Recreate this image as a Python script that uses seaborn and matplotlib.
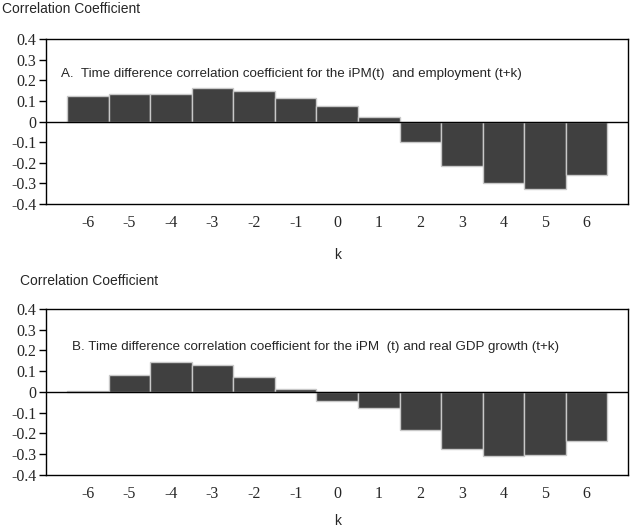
import numpy as np
import pandas as pd
import seaborn as sns
import matplotlib.pyplot as plt

lags = [-6, -5, -4, -3, -2, -1, 0, 1, 2, 3, 4, 5, 6]
corr_employment = [0.124, 0.133, 0.133, 0.161, 0.150, 0.117, 0.078, 0.024,
                   -0.101, -0.215, -0.298, -0.325, -0.259]
corr_gdp = [0.006, 0.084, 0.144, 0.132, 0.073, 0.013, -0.045, -0.079,
            -0.185, -0.273, -0.311, -0.302, -0.235]
ytick_vals = [0.4, 0.3, 0.2, 0.1, 0, -0.1, -0.2, -0.3, -0.4]
ytick_labels = ['0.4', '0.3', '0.2', '0.1', '0', '-0.1', '-0.2', '-0.3', '-0.4']
title_a = 'A.  Time difference correlation coefficient for the iPM(t)  and employment (t+k)'
title_b = 'B. Time difference correlation coefficient for the iPM  (t) and real GDP growth (t+k)'

sns.set_style("white")
sans = ['Liberation Sans Narrow', 'Liberation Sans', 'DejaVu Sans']
serif = ['Liberation Serif', 'DejaVu Serif']
plt.rcParams['font.family'] = sans

fig = plt.figure(figsize=(6.32, 5.30), dpi=100)
ax1 = fig.add_axes([0.073, 0.615, 0.921, 0.311])
ax2 = fig.add_axes([0.073, 0.104, 0.921, 0.313])

# (axes, values, panel text, text x, text y, k label pad) in axes fractions
panels = [(ax1, corr_employment, title_a, 0.026, 0.79, 12),
          (ax2, corr_gdp, title_b, 0.045, 0.77, 9)]
for ax, vals, label, tx, ty, pad in panels:
    df = pd.DataFrame({'k': [str(v) for v in lags], 'r': vals})
    sns.barplot(data=df, x='k', y='r', order=[str(v) for v in lags],
                color='#404040', saturation=1, width=1.0,
                edgecolor='#c8c8c8', linewidth=1, ax=ax)
    ax.set_xlim(-1, 13)
    ax.set_ylim(-0.4, 0.4)
    ax.axhline(0, color='black', linewidth=1)
    ax.set_yticks(ytick_vals)
    ax.set_yticklabels(ytick_labels, family=serif, fontsize=11.5)
    for t in ax.get_xticklabels():
        t.set_family(serif)
        t.set_fontsize(11.5)
    ax.tick_params(axis='y', direction='out', length=5, width=1, color='black', pad=2, left=True)
    ax.tick_params(axis='x', length=0, pad=8)
    ax.set_ylabel('')
    ax.set_xlabel('k', fontsize=10, labelpad=pad)
    for s in ax.spines.values():
        s.set_color('black')
        s.set_linewidth(1)
    ax.text(tx, ty, label, transform=ax.transAxes, fontsize=9.6, va='center', ha='left')

fig.text(0.003, 0.983, 'Correlation Coefficient', fontsize=10, va='center', ha='left')
fig.text(0.032, 0.47, 'Correlation Coefficient', fontsize=10, va='center', ha='left')

fig.savefig('out.png', dpi=100)
